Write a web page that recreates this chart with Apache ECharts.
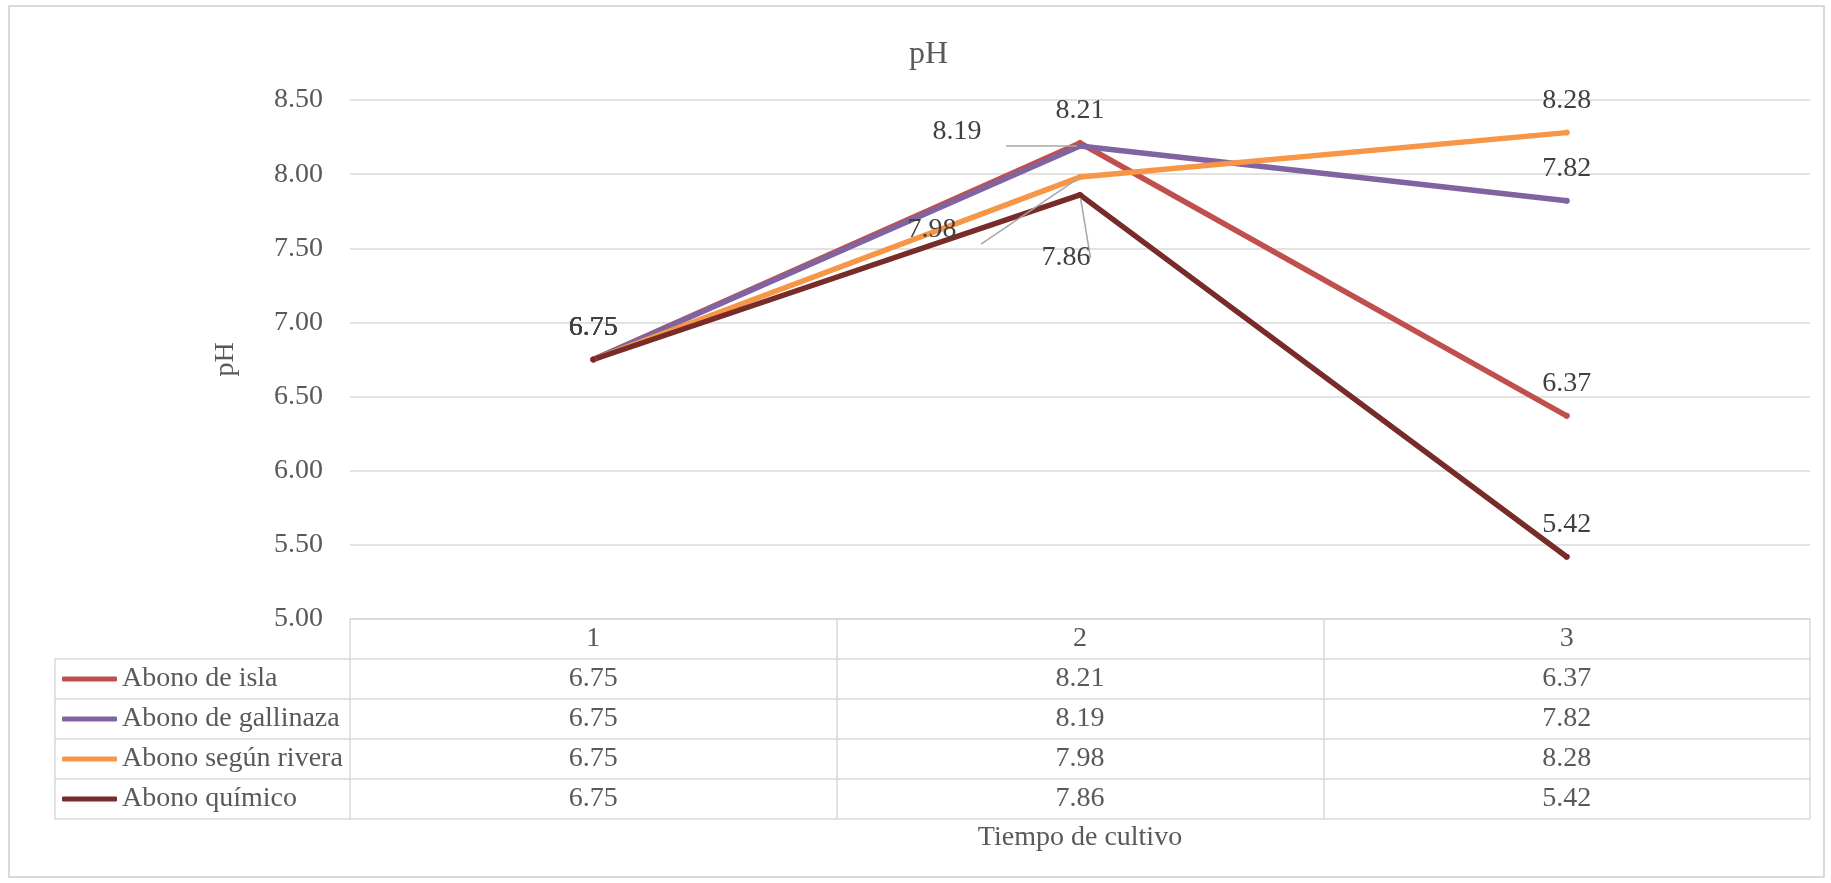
<!DOCTYPE html>
<html>
<head>
<meta charset="utf-8">
<script src="https://cdn.jsdelivr.net/npm/echarts@6/dist/echarts.min.js"></script>
<style>
html,body{margin:0;padding:0;background:#fff;}
#chart{width:1831px;height:883px;}
</style>
</head>
<body>
<div id="chart"></div>
<script>
// ---- data ----
const categories = ['1', '2', '3'];
const seriesNames = ['Abono de isla', 'Abono de gallinaza', 'Abono según rivera', 'Abono químico'];
const abonoIsla = [6.75, 8.21, 6.37];
const abonoGallinaza = [6.75, 8.19, 7.82];
const abonoRivera = [6.75, 7.98, 8.28];
const abonoQuimico = [6.75, 7.86, 5.42];
const yMin = 5, yMax = 8.5, yStep = 0.5;
const titleText = 'pH';
const yAxisTitle = 'pH';
const xAxisTitle = 'Tiempo de cultivo';

const seriesValues = [abonoIsla, abonoGallinaza, abonoRivera, abonoQuimico];
const colors = ['#C0504D', '#8064A2', '#F79646', '#772C2A'];

// label placement overrides (style only) at category index 1
const labelOverrides = [
  null,
  { position: 'inside', offset: [-123, -14] },
  { position: 'inside', offset: [-148, 53] },
  { position: 'inside', offset: [-14, 63] }
];

const FONT = '"Liberation Serif", "Times New Roman", serif';
const GRID_C = '#D9D9D9';
const TXT = '#595959';

const chart = echarts.init(document.getElementById('chart'));

const series = seriesValues.map((vals, si) => ({
  name: seriesNames[si],
  type: 'line',
  xAxisIndex: 0,
  yAxisIndex: 0,
  symbol: 'circle',
  symbolSize: 6,
  showSymbol: true,
  color: colors[si],
  lineStyle: { width: 5.5, cap: 'round', join: 'round', color: colors[si] },
  itemStyle: { color: colors[si] },
  label: {
    show: true, position: 'top', distance: 15,
    fontSize: 28, color: '#404040', fontFamily: FONT,
    formatter: p => Number(p.value).toFixed(2)
  },
  labelLine: { show: false },
  emphasis: { disabled: true },
  animation: false,
  data: vals.map((v, i) => {
    const o = labelOverrides[si];
    if (i === 1 && o) {
      return {
        value: v,
        label: { position: o.position, offset: o.offset },
        labelLine: { show: true, lineStyle: { color: '#A6A6A6', width: 1.5 } }
      };
    }
    return v;
  })
}));

// table row axes (one per series), drawn as category axes under the plot
const rowAxes = seriesValues.map((vals, si) => ({
  type: 'category',
  gridIndex: 0,
  position: 'bottom',
  offset: 40 * (si + 1),
  data: vals.map(v => v.toFixed(2)),
  boundaryGap: true,
  axisLine: { show: false },
  axisTick: { show: false },
  splitLine: { show: false },
  axisLabel: { show: true, fontSize: 28, color: TXT, fontFamily: FONT, margin: 6 }
}));

const option = {
  animation: false,
  backgroundColor: '#ffffff',
  textStyle: { fontFamily: FONT },
  title: {
    text: titleText,
    left: 904, top: 34,
    textStyle: { fontSize: 32, fontWeight: 'normal', color: TXT, fontFamily: FONT }
  },
  legend: {
    orient: 'vertical',
    left: 62, top: 659,
    padding: 0,
    itemGap: 0,
    itemWidth: 55, itemHeight: 5,
    icon: 'roundRect',
    selectedMode: false,
    data: seriesNames,
    textStyle: { fontSize: 28, color: TXT, fontFamily: FONT, lineHeight: 40, height: 40, padding: [0, 0, 0, 0] }
  },
  grid: [
    { left: 350, right: 21, top: 100, bottom: 264 },
    { left: 55, right: 21, top: 659, height: 160 }
  ],
  xAxis: [
    {
      type: 'category',
      gridIndex: 0,
      data: categories,
      boundaryGap: true,
      position: 'bottom',
      axisLine: { show: true, lineStyle: { color: GRID_C, width: 1.5 } },
      axisTick: { show: true, length: 200, alignWithLabel: false, lineStyle: { color: GRID_C, width: 1.5 } },
      axisLabel: { fontSize: 28, color: TXT, fontFamily: FONT, margin: 6 },
      name: xAxisTitle,
      nameLocation: 'middle',
      nameGap: 205,
      nameTextStyle: { fontSize: 28, color: TXT, fontFamily: FONT }
    },
    ...rowAxes,
    { type: 'value', gridIndex: 1, show: false, min: 0, max: 1 }
  ],
  yAxis: [
    {
      type: 'value',
      gridIndex: 0,
      min: yMin, max: yMax, interval: yStep,
      axisLine: { show: false },
      axisTick: { show: false },
      axisLabel: { fontSize: 28, color: TXT, fontFamily: FONT, margin: 27, formatter: v => v.toFixed(2) },
      splitLine: { show: true, lineStyle: { color: GRID_C, width: 1.5 } },
      name: yAxisTitle,
      nameLocation: 'middle',
      nameGap: 110,
      nameTextStyle: { fontSize: 28, color: TXT, fontFamily: FONT }
    },
    {
      type: 'value',
      gridIndex: 1,
      min: 0, max: 4, interval: 1,
      inverse: true,
      axisLine: { show: true, lineStyle: { color: GRID_C, width: 1.5 } },
      axisTick: { show: false },
      axisLabel: { show: false },
      splitLine: { show: true, lineStyle: { color: GRID_C, width: 1.5 } }
    }
  ],
  graphic: [
    {
      type: 'rect', silent: true, z: -1,
      shape: { x: 9, y: 6, width: 1815, height: 871 },
      style: { fill: 'none', stroke: GRID_C, lineWidth: 2 }
    }
  ],
  series: series
};

chart.setOption(option);
</script>
</body>
</html>
